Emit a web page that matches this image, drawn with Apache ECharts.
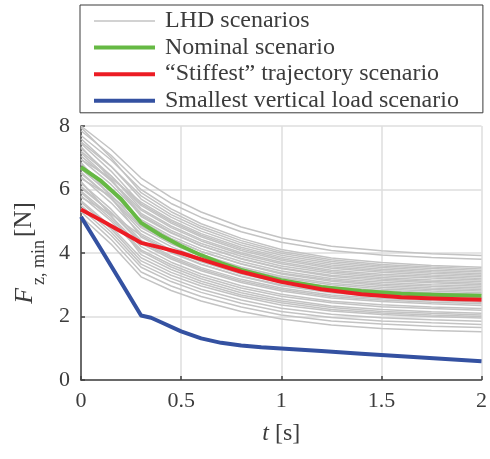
<!DOCTYPE html>
<html>
<head>
<meta charset="utf-8">
<script src="https://cdn.jsdelivr.net/npm/echarts@6/dist/echarts.min.js"></script>
<style>
  html, body { margin: 0; padding: 0; background: #ffffff; }
  #chart { width: 490px; height: 459px; }
</style>
</head>
<body>
<div id="chart"></div>
<script>
// Time samples (s) of the Latin-hypercube scenario runs
const tLhd = [0, 0.15, 0.3, 0.45, 0.6, 0.8, 1.0, 1.25, 1.5, 1.75, 2.0];

// Minimum vertical load F_z,min (N) of each LHD scenario at the times above
const lhdScenarios = [
  [8.00, 7.26, 6.36, 5.75, 5.29, 4.82, 4.48, 4.21, 4.07, 3.98, 3.92],
  [7.85, 7.08, 6.15, 5.56, 5.12, 4.67, 4.34, 4.08, 3.94, 3.86, 3.80],
  [7.95, 7.00, 5.90, 5.30, 4.84, 4.39, 4.05, 3.79, 3.64, 3.56, 3.50],
  [7.70, 6.93, 6.00, 5.39, 4.92, 4.46, 4.11, 3.84, 3.70, 3.61, 3.55],
  [7.60, 6.73, 5.70, 5.13, 4.69, 4.25, 3.93, 3.68, 3.54, 3.46, 3.40],
  [7.50, 6.73, 5.80, 5.21, 4.77, 4.32, 3.99, 3.73, 3.59, 3.51, 3.45],
  [7.45, 6.58, 5.55, 4.99, 4.56, 4.13, 3.82, 3.57, 3.44, 3.36, 3.30],
  [6.95, 6.36, 5.60, 5.04, 4.61, 4.18, 3.87, 3.62, 3.49, 3.41, 3.35],
  [7.30, 6.43, 5.40, 4.85, 4.43, 4.01, 3.71, 3.46, 3.33, 3.26, 3.20],
  [7.20, 6.43, 5.50, 4.94, 4.51, 4.08, 3.77, 3.52, 3.39, 3.31, 3.25],
  [7.15, 6.28, 5.25, 4.71, 4.30, 3.90, 3.59, 3.36, 3.23, 3.15, 3.10],
  [7.05, 6.28, 5.35, 4.80, 4.38, 3.96, 3.66, 3.41, 3.28, 3.21, 3.15],
  [7.35, 6.33, 5.15, 4.63, 4.23, 3.83, 3.53, 3.30, 3.18, 3.10, 3.05],
  [6.95, 6.16, 5.20, 4.65, 4.23, 3.81, 3.51, 3.26, 3.13, 3.06, 3.00],
  [6.35, 5.78, 5.05, 4.53, 4.13, 3.73, 3.43, 3.20, 3.08, 3.00, 2.95],
  [6.80, 5.96, 4.95, 4.44, 4.05, 3.66, 3.37, 3.15, 3.02, 2.95, 2.90],
  [6.70, 5.93, 5.00, 4.46, 4.05, 3.65, 3.34, 3.11, 2.98, 2.90, 2.85],
  [6.65, 5.83, 4.85, 4.34, 3.95, 3.56, 3.27, 3.05, 2.92, 2.85, 2.80],
  [6.55, 5.71, 4.70, 4.20, 3.82, 3.44, 3.16, 2.94, 2.82, 2.75, 2.70],
  [6.50, 5.73, 4.80, 4.29, 3.90, 3.51, 3.22, 3.00, 2.87, 2.80, 2.75],
  [6.40, 5.58, 4.60, 4.10, 3.72, 3.34, 3.06, 2.84, 2.72, 2.65, 2.60],
  [6.85, 5.76, 4.50, 4.01, 3.64, 3.27, 3.00, 2.78, 2.67, 2.60, 2.55],
  [5.75, 5.23, 4.55, 4.04, 3.65, 3.26, 2.97, 2.75, 2.62, 2.55, 2.50],
  [6.20, 5.38, 4.40, 3.91, 3.54, 3.17, 2.90, 2.68, 2.57, 2.50, 2.45],
  [6.10, 5.28, 4.30, 3.81, 3.44, 3.07, 2.80, 2.58, 2.47, 2.40, 2.35],
  [6.05, 5.28, 4.35, 3.86, 3.49, 3.12, 2.85, 2.63, 2.52, 2.45, 2.40],
  [5.95, 5.16, 4.20, 3.71, 3.34, 2.97, 2.70, 2.48, 2.37, 2.30, 2.25],
  [5.90, 5.08, 4.10, 3.63, 3.26, 2.90, 2.64, 2.43, 2.31, 2.25, 2.20],
  [5.80, 5.01, 4.05, 3.56, 3.19, 2.82, 2.55, 2.33, 2.22, 2.15, 2.10],
  [6.25, 5.18, 3.95, 3.48, 3.11, 2.75, 2.49, 2.28, 2.16, 2.10, 2.05],
  [5.65, 4.83, 3.85, 3.39, 3.04, 2.68, 2.43, 2.22, 2.11, 2.05, 2.00],
  [5.60, 4.76, 3.75, 3.30, 2.96, 2.62, 2.36, 2.17, 2.06, 2.00, 1.95],
  [5.50, 4.66, 3.65, 3.20, 2.86, 2.52, 2.26, 2.07, 1.96, 1.90, 1.85],
  [5.40, 4.56, 3.55, 3.10, 2.76, 2.42, 2.16, 1.97, 1.86, 1.80, 1.75],
  [5.30, 4.43, 3.40, 2.96, 2.63, 2.30, 2.05, 1.86, 1.76, 1.69, 1.65],
  [5.15, 4.28, 3.25, 2.82, 2.49, 2.16, 1.92, 1.73, 1.62, 1.56, 1.52]
];

// Time samples (s) of the highlighted scenarios
const tMain = [0, 0.1, 0.2, 0.3, 0.4, 0.5, 0.6, 0.7, 0.8, 1.0, 1.2, 1.4, 1.6, 1.8, 2.0];
const nominal  = [6.70, 6.27, 5.70, 4.95, 4.55, 4.22, 3.93, 3.68, 3.47, 3.14, 2.93, 2.80, 2.72, 2.68, 2.65];
const stiffest = [5.37, 5.03, 4.68, 4.32, 4.17, 4.00, 3.80, 3.60, 3.41, 3.09, 2.86, 2.70, 2.61, 2.56, 2.53];

const tSmallest = [0, 0.1, 0.2, 0.3, 0.35, 0.4, 0.5, 0.6, 0.7, 0.8, 0.9, 1.0, 1.2, 1.4, 1.6, 1.8, 2.0];
const smallest  = [5.14, 4.12, 3.08, 2.03, 1.96, 1.82, 1.53, 1.31, 1.17, 1.09, 1.03, 0.99, 0.91, 0.83, 0.75, 0.67, 0.59];

const legendNames = ['LHD scenarios', 'Nominal scenario', '\u201cStiffest\u201d trajectory scenario', 'Smallest vertical load scenario'];

const SERIF = '"Liberation Serif", "Times New Roman", serif';
const INK = '#3c3c3c';
const GRAY = '#c3c3c3';
const COLORS = ['#66b944', '#ec1c24', '#3451a1'];

function pairs(ts, vs) { return ts.map((t, i) => [t, vs[i]]); }

const series = [];
lhdScenarios.forEach(run => {
  series.push({
    type: 'line', name: legendNames[0], data: pairs(tLhd, run),
    symbol: 'none', silent: true, z: 2,
    color: GRAY,
    lineStyle: { color: GRAY, width: 1.5 }
  });
});
[[tMain, nominal], [tMain, stiffest], [tSmallest, smallest]].forEach(([ts, vs], k) => {
  series.push({
    type: 'line', name: legendNames[k + 1], data: pairs(ts, vs),
    symbol: 'none', silent: true, z: 3 + k,
    color: COLORS[k],
    lineStyle: { color: COLORS[k], width: 4, join: 'round' }
  });
});

const chart = echarts.init(document.getElementById('chart'), null, { renderer: 'canvas' });
chart.setOption({
  animation: false,
  backgroundColor: '#ffffff',
  grid: { left: 81, top: 126, width: 403, height: 254, containLabel: false },
  legend: {
    data: [
      { name: legendNames[0], lineStyle: { width: 1.5, color: GRAY } },
      { name: legendNames[1], lineStyle: { width: 4, color: COLORS[0] } },
      { name: legendNames[2], lineStyle: { width: 4, color: COLORS[1] } },
      { name: legendNames[3], lineStyle: { width: 4, color: COLORS[2] } }
    ],
    orient: 'vertical',
    left: 80, top: 5,
    padding: [4, 24, 0, 12],
    itemGap: 2.6,
    itemWidth: 61,
    itemHeight: 2,
    itemStyle: { opacity: 0 },
    borderColor: '#3a3a3a',
    borderWidth: 1,
    selectedMode: false,
    textStyle: { fontFamily: SERIF, fontSize: 24, color: INK, lineHeight: 24, padding: [0, 0, 0, 5] }
  },
  xAxis: {
    type: 'value', min: 0, max: 2, interval: 0.5,
    axisLine: { show: true, lineStyle: { color: '#404040', width: 1.5 } },
    axisTick: { show: true, inside: true, length: 4, lineStyle: { color: '#404040', width: 1.5 } },
    splitLine: { show: true, lineStyle: { color: '#dedede', width: 1.5 } },
    axisLabel: { color: INK, fontFamily: SERIF, fontSize: 22, margin: 10 },
    name: '{i|t} [s]',
    nameLocation: 'middle', nameGap: 42,
    nameTextStyle: {
      color: INK, fontFamily: SERIF, fontSize: 24,
      rich: { i: { fontStyle: 'italic', fontFamily: SERIF, fontSize: 24, color: INK } }
    }
  },
  yAxis: {
    type: 'value', min: 0, max: 8, interval: 2,
    axisLine: { show: true, lineStyle: { color: '#404040', width: 1.5 } },
    axisTick: { show: true, inside: true, length: 4, lineStyle: { color: '#404040', width: 1.5 } },
    splitLine: { show: true, lineStyle: { color: '#dedede', width: 1.5 } },
    axisLabel: { color: INK, fontFamily: SERIF, fontSize: 22, margin: 11 },
    name: '{f|F} {s|z, min} {n|[N]}',
    nameLocation: 'middle', nameRotate: 90, nameGap: 31,
    nameTextStyle: {
      color: INK, fontFamily: SERIF,
      rich: {
        f: { fontStyle: 'italic', fontFamily: SERIF, fontSize: 26, color: INK, lineHeight: 25, verticalAlign: 'top' },
        s: { fontFamily: SERIF, fontSize: 18, color: INK, lineHeight: 17, padding: [18, 0, 0, 0], verticalAlign: 'top' },
        n: { fontFamily: SERIF, fontSize: 25, color: INK, lineHeight: 25, verticalAlign: 'top' }
      }
    }
  },
  series
});
</script>
</body>
</html>
